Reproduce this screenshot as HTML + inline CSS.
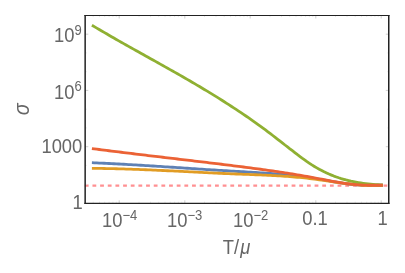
<!DOCTYPE html>
<html><head><meta charset="utf-8">
<style>
html,body{margin:0;padding:0;background:#fff;}
body{width:405px;height:273px;overflow:hidden;position:relative;font-family:"Liberation Sans",sans-serif;}
svg{position:absolute;left:0;top:0;}
text{font-family:"Liberation Sans",sans-serif;fill:#666;}
</style></head><body>
<svg width="405" height="273" viewBox="0 0 405 273">
<rect x="0" y="0" width="405" height="273" fill="#fff"/>
<g fill="none" stroke-width="2.2" stroke-linecap="butt" stroke-linejoin="round">
<line x1="84.8" y1="185.6" x2="389" y2="185.6" stroke="#ff9092" stroke-width="2.2" stroke-dasharray="3.8 3.86"/>
<path d="M91.9,162.72 L94.3,162.82 L96.8,162.93 L99.2,163.03 L101.7,163.14 L104.1,163.25 L106.6,163.37 L109.0,163.49 L111.5,163.61 L113.9,163.73 L116.3,163.86 L118.8,163.99 L121.2,164.12 L123.7,164.25 L126.1,164.39 L128.6,164.53 L131.0,164.67 L133.5,164.81 L135.9,164.95 L138.3,165.10 L140.8,165.25 L143.2,165.39 L145.7,165.54 L148.1,165.70 L150.6,165.85 L153.0,166.00 L155.5,166.16 L157.9,166.31 L160.3,166.47 L162.8,166.63 L165.2,166.79 L167.7,166.95 L170.1,167.11 L172.6,167.27 L175.0,167.43 L177.5,167.59 L179.9,167.76 L182.3,167.92 L184.8,168.08 L187.2,168.24 L189.7,168.40 L192.1,168.57 L194.6,168.73 L197.0,168.89 L199.5,169.05 L201.9,169.21 L204.3,169.37 L206.8,169.53 L209.2,169.69 L211.7,169.85 L214.1,170.00 L216.6,170.16 L219.0,170.31 L221.5,170.46 L223.9,170.62 L226.3,170.77 L228.8,170.91 L231.2,171.06 L233.7,171.21 L236.1,171.35 L238.6,171.49 L241.0,171.63 L243.5,171.77 L245.9,171.91 L248.4,172.06 L250.8,172.20 L253.2,172.34 L255.7,172.49 L258.1,172.64 L260.6,172.80 L263.0,172.96 L265.5,173.12 L267.9,173.29 L270.4,173.47 L272.8,173.65 L275.2,173.84 L277.7,174.04 L280.1,174.24 L282.6,174.46 L285.0,174.68 L287.5,174.92 L289.9,175.16 L292.4,175.42 L294.8,175.69 L297.2,175.97 L299.7,176.27 L302.1,176.58 L304.6,176.90 L307.0,177.24 L309.5,177.60 L311.9,177.97 L314.4,178.36 L316.8,178.76 L319.2,179.18 L321.7,179.61 L324.1,180.04 L326.6,180.48 L329.0,180.92 L331.5,181.35 L333.9,181.78 L336.4,182.20 L338.8,182.60 L341.2,182.99 L343.7,183.35 L346.1,183.69 L348.6,184.00 L351.0,184.28 L353.5,184.53 L355.9,184.74 L358.4,184.90 L360.8,185.04 L363.2,185.13 L365.7,185.20 L368.1,185.23 L370.6,185.24 L373.0,185.24 L375.5,185.24 L377.9,185.24 L380.4,185.24 L382.8,185.24" stroke="#5e81b5" stroke-width="2.8"/>
<path d="M91.9,168.37 L94.3,168.39 L96.8,168.41 L99.2,168.44 L101.7,168.47 L104.1,168.50 L106.6,168.55 L109.0,168.59 L111.5,168.64 L113.9,168.70 L116.3,168.76 L118.8,168.82 L121.2,168.89 L123.7,168.96 L126.1,169.03 L128.6,169.11 L131.0,169.19 L133.5,169.28 L135.9,169.37 L138.3,169.46 L140.8,169.55 L143.2,169.65 L145.7,169.75 L148.1,169.85 L150.6,169.95 L153.0,170.06 L155.5,170.17 L157.9,170.28 L160.3,170.39 L162.8,170.50 L165.2,170.62 L167.7,170.73 L170.1,170.85 L172.6,170.97 L175.0,171.09 L177.5,171.21 L179.9,171.33 L182.3,171.45 L184.8,171.58 L187.2,171.70 L189.7,171.82 L192.1,171.94 L194.6,172.07 L197.0,172.19 L199.5,172.31 L201.9,172.43 L204.3,172.55 L206.8,172.67 L209.2,172.79 L211.7,172.91 L214.1,173.03 L216.6,173.14 L219.0,173.25 L221.5,173.37 L223.9,173.48 L226.3,173.59 L228.8,173.69 L231.2,173.80 L233.7,173.90 L236.1,174.00 L238.6,174.10 L241.0,174.19 L243.5,174.29 L245.9,174.38 L248.4,174.47 L250.8,174.57 L253.2,174.66 L255.7,174.76 L258.1,174.86 L260.6,174.97 L263.0,175.07 L265.5,175.18 L267.9,175.30 L270.4,175.42 L272.8,175.54 L275.2,175.67 L277.7,175.81 L280.1,175.96 L282.6,176.11 L285.0,176.28 L287.5,176.45 L289.9,176.63 L292.4,176.82 L294.8,177.02 L297.2,177.24 L299.7,177.46 L302.1,177.70 L304.6,177.95 L307.0,178.22 L309.5,178.50 L311.9,178.79 L314.4,179.10 L316.8,179.42 L319.2,179.76 L321.7,180.11 L324.1,180.47 L326.6,180.83 L329.0,181.19 L331.5,181.56 L333.9,181.92 L336.4,182.28 L338.8,182.64 L341.2,182.98 L343.7,183.31 L346.1,183.63 L348.6,183.93 L351.0,184.21 L353.5,184.46 L355.9,184.70 L358.4,184.91 L360.8,185.08 L363.2,185.23 L365.7,185.34 L368.1,185.42 L370.6,185.47 L373.0,185.47 L375.5,185.47 L377.9,185.47 L380.4,185.47 L382.8,185.47" stroke="#e19c24" stroke-width="2.8"/>
<path d="M91.9,25.21 L94.3,26.67 L96.8,28.12 L99.2,29.56 L101.7,30.99 L104.1,32.42 L106.6,33.84 L109.0,35.25 L111.5,36.66 L113.9,38.06 L116.3,39.45 L118.8,40.85 L121.2,42.23 L123.7,43.61 L126.1,44.99 L128.6,46.37 L131.0,47.74 L133.5,49.11 L135.9,50.48 L138.3,51.84 L140.8,53.20 L143.2,54.57 L145.7,55.93 L148.1,57.29 L150.6,58.65 L153.0,60.02 L155.5,61.38 L157.9,62.75 L160.3,64.11 L162.8,65.48 L165.2,66.85 L167.7,68.23 L170.1,69.60 L172.6,70.98 L175.0,72.37 L177.5,73.76 L179.9,75.15 L182.3,76.55 L184.8,77.95 L187.2,79.37 L189.7,80.78 L192.1,82.21 L194.6,83.64 L197.0,85.08 L199.5,86.52 L201.9,87.98 L204.3,89.44 L206.8,90.91 L209.2,92.39 L211.7,93.89 L214.1,95.39 L216.6,96.90 L219.0,98.42 L221.5,99.96 L223.9,101.51 L226.3,103.06 L228.8,104.64 L231.2,106.22 L233.7,107.82 L236.1,109.43 L238.6,111.05 L241.0,112.69 L243.5,114.35 L245.9,116.02 L248.4,117.71 L250.8,119.41 L253.2,121.13 L255.7,122.86 L258.1,124.61 L260.6,126.38 L263.0,128.17 L265.5,129.98 L267.9,131.80 L270.4,133.65 L272.8,135.51 L275.2,137.39 L277.7,139.28 L280.1,141.18 L282.6,143.08 L285.0,144.99 L287.5,146.89 L289.9,148.79 L292.4,150.68 L294.8,152.56 L297.2,154.42 L299.7,156.27 L302.1,158.10 L304.6,159.88 L307.0,161.63 L309.5,163.31 L311.9,164.92 L314.4,166.46 L316.8,167.91 L319.2,169.29 L321.7,170.60 L324.1,171.82 L326.6,172.98 L329.0,174.07 L331.5,175.10 L333.9,176.06 L336.4,176.95 L338.8,177.79 L341.2,178.57 L343.7,179.29 L346.1,179.96 L348.6,180.57 L351.0,181.14 L353.5,181.66 L355.9,182.13 L358.4,182.57 L360.8,182.96 L363.2,183.31 L365.7,183.63 L368.1,183.91 L370.6,184.16 L373.0,184.38 L375.5,184.57 L377.9,184.73 L380.4,184.88 L382.8,185.00" stroke="#8fb032" stroke-width="2.8"/>
<path d="M91.9,148.55 L94.3,148.87 L96.8,149.18 L99.2,149.50 L101.7,149.81 L104.1,150.12 L106.6,150.43 L109.0,150.74 L111.5,151.05 L113.9,151.35 L116.3,151.66 L118.8,151.96 L121.2,152.26 L123.7,152.56 L126.1,152.86 L128.6,153.16 L131.0,153.46 L133.5,153.75 L135.9,154.05 L138.3,154.34 L140.8,154.64 L143.2,154.93 L145.7,155.22 L148.1,155.52 L150.6,155.81 L153.0,156.10 L155.5,156.39 L157.9,156.68 L160.3,156.97 L162.8,157.26 L165.2,157.55 L167.7,157.83 L170.1,158.12 L172.6,158.41 L175.0,158.70 L177.5,158.99 L179.9,159.28 L182.3,159.57 L184.8,159.86 L187.2,160.15 L189.7,160.44 L192.1,160.73 L194.6,161.02 L197.0,161.31 L199.5,161.60 L201.9,161.89 L204.3,162.18 L206.8,162.48 L209.2,162.77 L211.7,163.07 L214.1,163.36 L216.6,163.66 L219.0,163.96 L221.5,164.26 L223.9,164.56 L226.3,164.86 L228.8,165.16 L231.2,165.46 L233.7,165.77 L236.1,166.07 L238.6,166.38 L241.0,166.69 L243.5,167.00 L245.9,167.32 L248.4,167.63 L250.8,167.95 L253.2,168.27 L255.7,168.60 L258.1,168.92 L260.6,169.25 L263.0,169.59 L265.5,169.93 L267.9,170.27 L270.4,170.61 L272.8,170.96 L275.2,171.32 L277.7,171.68 L280.1,172.05 L282.6,172.42 L285.0,172.79 L287.5,173.17 L289.9,173.56 L292.4,173.96 L294.8,174.36 L297.2,174.76 L299.7,175.18 L302.1,175.60 L304.6,176.03 L307.0,176.46 L309.5,176.90 L311.9,177.36 L314.4,177.81 L316.8,178.28 L319.2,178.75 L321.7,179.23 L324.1,179.70 L326.6,180.18 L329.0,180.64 L331.5,181.10 L333.9,181.55 L336.4,181.98 L338.8,182.40 L341.2,182.80 L343.7,183.17 L346.1,183.52 L348.6,183.85 L351.0,184.14 L353.5,184.40 L355.9,184.63 L358.4,184.82 L360.8,184.97 L363.2,185.09 L365.7,185.18 L368.1,185.23 L370.6,185.26 L373.0,185.26 L375.5,185.26 L377.9,185.26 L380.4,185.26 L382.8,185.26" stroke="#eb6235" stroke-width="2.8"/>
</g>
<path d="M119.2,203.3v-3.0M119.2,15.5v3.0M184.8,203.3v-3.0M184.8,15.5v3.0M250.2,203.3v-3.0M250.2,15.5v3.0M315.8,203.3v-3.0M315.8,15.5v3.0M381.2,203.3v-3.0M381.2,15.5v3.0M85.3,146.7h3.0M388.8,146.7h-3.0M85.3,90.4h3.0M388.8,90.4h-3.0M85.3,34.2h3.0M388.8,34.2h-3.0" stroke="#c4c4c4" stroke-width="0.8" fill="none"/>
<path d="M93.2,203.3v-1.6M93.2,15.5v1.6M99.5,203.3v-1.6M99.5,15.5v1.6M104.7,203.3v-1.6M104.7,15.5v1.6M109.1,203.3v-1.6M109.1,15.5v1.6M112.9,203.3v-1.6M112.9,15.5v1.6M116.3,203.3v-1.6M116.3,15.5v1.6M139.0,203.3v-1.6M139.0,15.5v1.6M150.5,203.3v-1.6M150.5,15.5v1.6M158.7,203.3v-1.6M158.7,15.5v1.6M165.0,203.3v-1.6M165.0,15.5v1.6M170.2,203.3v-1.6M170.2,15.5v1.6M174.6,203.3v-1.6M174.6,15.5v1.6M178.4,203.3v-1.6M178.4,15.5v1.6M181.8,203.3v-1.6M181.8,15.5v1.6M204.5,203.3v-1.6M204.5,15.5v1.6M216.0,203.3v-1.6M216.0,15.5v1.6M224.2,203.3v-1.6M224.2,15.5v1.6M230.5,203.3v-1.6M230.5,15.5v1.6M235.7,203.3v-1.6M235.7,15.5v1.6M240.1,203.3v-1.6M240.1,15.5v1.6M243.9,203.3v-1.6M243.9,15.5v1.6M247.3,203.3v-1.6M247.3,15.5v1.6M270.0,203.3v-1.6M270.0,15.5v1.6M281.5,203.3v-1.6M281.5,15.5v1.6M289.7,203.3v-1.6M289.7,15.5v1.6M296.0,203.3v-1.6M296.0,15.5v1.6M301.2,203.3v-1.6M301.2,15.5v1.6M305.6,203.3v-1.6M305.6,15.5v1.6M309.4,203.3v-1.6M309.4,15.5v1.6M312.8,203.3v-1.6M312.8,15.5v1.6M335.5,203.3v-1.6M335.5,15.5v1.6M347.0,203.3v-1.6M347.0,15.5v1.6M355.2,203.3v-1.6M355.2,15.5v1.6M361.5,203.3v-1.6M361.5,15.5v1.6M366.7,203.3v-1.6M366.7,15.5v1.6M371.1,203.3v-1.6M371.1,15.5v1.6M374.9,203.3v-1.6M374.9,15.5v1.6M378.3,203.3v-1.6M378.3,15.5v1.6M85.3,184.2h1.6M388.8,184.2h-1.6M85.3,165.4h1.6M388.8,165.4h-1.6M85.3,127.9h1.6M388.8,127.9h-1.6M85.3,109.2h1.6M388.8,109.2h-1.6M85.3,71.7h1.6M388.8,71.7h-1.6M85.3,52.9h1.6M388.8,52.9h-1.6" stroke="#e4e4e4" stroke-width="0.8" fill="none"/>
<g stroke="#222" fill="none">
<line x1="84.4" y1="15.5" x2="389.5" y2="15.5" stroke-width="1.1"/>
<line x1="84.4" y1="203.45" x2="389.5" y2="203.45" stroke-width="1.2"/>
<line x1="85.15" y1="15" x2="85.15" y2="204" stroke-width="1.5"/>
<line x1="388.75" y1="15" x2="388.75" y2="204" stroke-width="1.5"/>
</g>
<g font-size="20.2" style="filter:grayscale(1)">
<text transform="translate(81.8,42.1) scale(0.91,1)" text-anchor="end">10<tspan font-size="14.3" dy="-7.4">9</tspan></text>
<text transform="translate(81.8,98.6) scale(0.91,1)" text-anchor="end">10<tspan font-size="14.3" dy="-7.4">6</tspan></text>
<text transform="translate(82.3,152.8) scale(0.91,1)" text-anchor="end">1000</text>
<text transform="translate(82.8,209.3) scale(0.91,1)" text-anchor="end">1</text>
<text transform="translate(102,227.2) scale(0.91,1)" text-anchor="start">10<tspan font-size="14.3" dy="-7.4">−4</tspan></text>
<text transform="translate(167,227.2) scale(0.91,1)" text-anchor="start">10<tspan font-size="14.3" dy="-7.4">−3</tspan></text>
<text transform="translate(233,227.2) scale(0.91,1)" text-anchor="start">10<tspan font-size="14.3" dy="-7.4">−2</tspan></text>
<text transform="translate(315,224.5) scale(0.91,1)" text-anchor="middle">0.1</text>
<text transform="translate(382.7,224.5) scale(0.91,1)" text-anchor="middle">1</text>
<text transform="translate(222.7,254.2) scale(0.91,1)" text-anchor="start">T/<tspan font-style="italic" dx="1.3">μ</tspan></text>
<text transform="translate(29,109.3) rotate(-90) scale(0.86,0.95)" text-anchor="middle" font-style="italic" font-size="23">σ</text>
</g>
</svg>
</body></html>
